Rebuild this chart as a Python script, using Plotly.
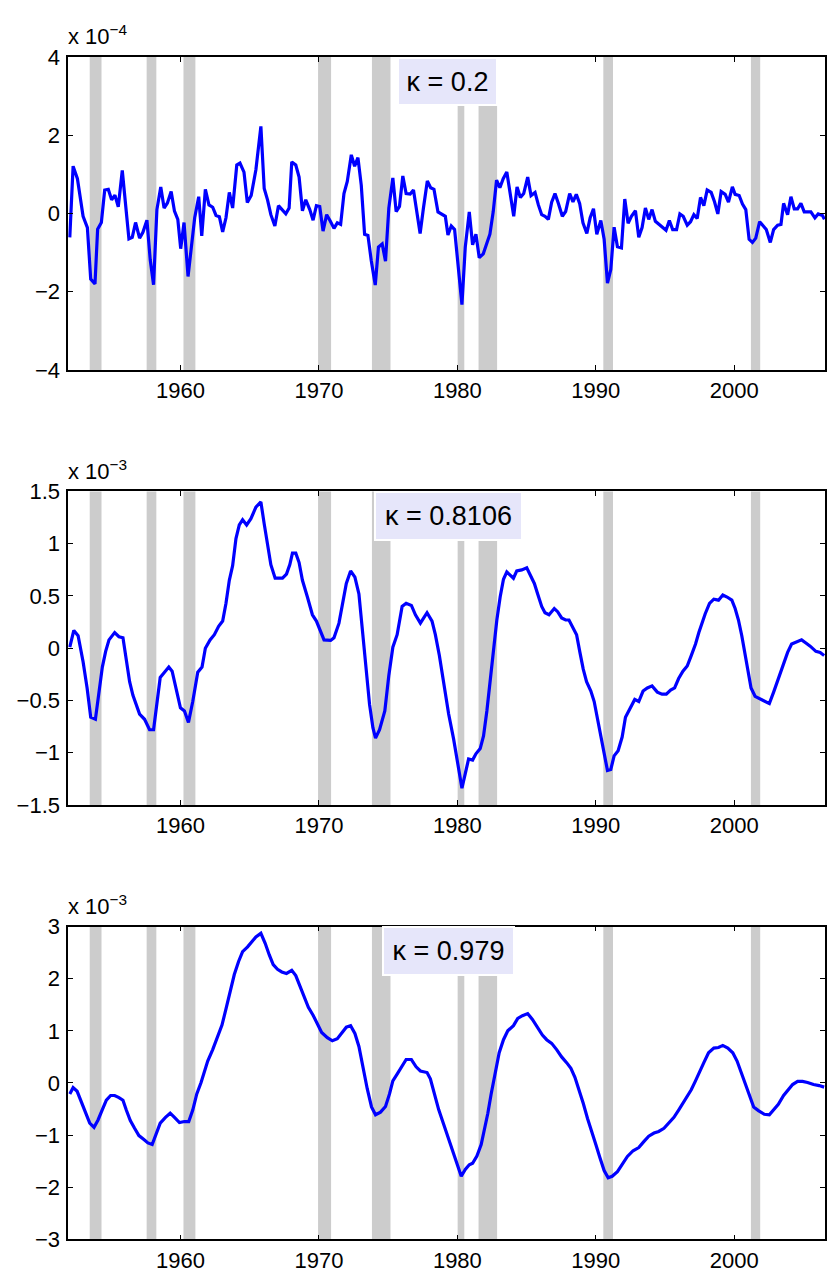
import plotly.graph_objects as go

W, H = 827, 1286

# ---------------- data ----------------
REC_START = [1953.45, 1957.56, 1960.22, 1969.94, 1973.83, 1980.02, 1981.53, 1990.54, 2001.20]
REC_END   = [1954.30, 1958.26, 1961.08, 1970.88, 1975.17, 1980.50, 1982.87, 1991.24, 2001.87]

X_TICKS = [1960, 1970, 1980, 1990, 2000]
X_TICK_LABELS = ["1960", "1970", "1980", "1990", "2000"]

# panel 1 (units of 1e-4), kappa = 0.2
P1_YEAR = [1952.01, 1952.25, 1952.56, 1952.97, 1953.28, 1953.52, 1953.83, 1954.02, 1954.29, 1954.53,
           1954.79, 1955.03, 1955.27, 1955.51, 1955.80, 1956.04, 1956.28, 1956.52, 1956.76, 1957.05,
           1957.29, 1957.58, 1957.82, 1958.06, 1958.30, 1958.58, 1958.82, 1959.06, 1959.33, 1959.57,
           1959.81, 1960.02, 1960.26, 1960.55, 1960.79, 1961.03, 1961.32, 1961.54, 1961.80, 1962.06,
           1962.33, 1962.57, 1962.81, 1963.05, 1963.29, 1963.53, 1963.77, 1964.07, 1964.30, 1964.59,
           1964.83, 1965.11, 1965.45, 1965.81, 1966.05, 1966.29, 1966.53, 1966.82, 1967.08, 1967.37,
           1967.61, 1967.85, 1968.04, 1968.33, 1968.57, 1968.81, 1969.05, 1969.34, 1969.58, 1969.82,
           1970.06, 1970.30, 1970.56, 1970.80, 1971.09, 1971.33, 1971.57, 1971.81, 1972.05, 1972.34,
           1972.58, 1972.82, 1973.06, 1973.30, 1973.54, 1973.78, 1974.07, 1974.30, 1974.57, 1974.81,
           1975.05, 1975.34, 1975.58, 1975.82, 1976.06, 1976.30, 1976.59, 1976.83, 1977.07, 1977.31,
           1977.55, 1977.83, 1978.07, 1978.31, 1978.60, 1978.89, 1979.13, 1979.32, 1979.56, 1979.80,
           1980.04, 1980.33, 1980.57, 1980.86, 1981.10, 1981.34, 1981.58, 1981.87, 1982.11, 1982.35,
           1982.59, 1982.83, 1983.07, 1983.31, 1983.57, 1983.83, 1984.07, 1984.31, 1984.55, 1984.79,
           1985.08, 1985.32, 1985.61, 1985.85, 1986.09, 1986.33, 1986.57, 1986.81, 1987.05, 1987.29,
           1987.58, 1987.82, 1988.11, 1988.35, 1988.59, 1988.83, 1989.07, 1989.35, 1989.59, 1989.83,
           1990.07, 1990.36, 1990.60, 1990.84, 1991.08, 1991.32, 1991.56, 1991.85, 1992.09, 1992.33,
           1992.57, 1992.86, 1993.10, 1993.34, 1993.58, 1993.82, 1994.06, 1994.30, 1994.59, 1994.83,
           1995.07, 1995.31, 1995.55, 1995.83, 1996.07, 1996.31, 1996.60, 1996.84, 1997.08, 1997.32,
           1997.56, 1997.80, 1998.04, 1998.33, 1998.57, 1998.81, 1999.05, 1999.34, 1999.58, 1999.86,
           2000.06, 2000.35, 2000.59, 2000.83, 2001.07, 2001.31, 2001.55, 2001.83, 2002.07, 2002.31,
           2002.60, 2002.84, 2003.13, 2003.37, 2003.56, 2003.85, 2004.09, 2004.33, 2004.57, 2004.81,
           2005.05, 2005.29, 2005.53, 2005.82, 2006.06, 2006.37, 2006.51]
P1_VAL = [-0.61, 1.21, 0.89, -0.07, -0.36, -1.68, -1.80, -0.40, -0.23, 0.60,
          0.62, 0.35, 0.47, 0.17, 1.10, 0.22, -0.65, -0.61, -0.23, -0.63,
          -0.48, -0.17, -1.19, -1.82, 0.10, 0.68, 0.14, 0.27, 0.56, 0.06,
          -0.15, -0.90, -0.23, -1.61, -0.78, -0.11, 0.43, -0.57, 0.62, 0.22,
          0.16, -0.05, -0.08, -0.47, -0.11, 0.54, 0.14, 1.24, 1.29, 1.06,
          0.28, 0.46, 1.12, 2.23, 0.64, 0.35, -0.03, -0.32, 0.20, 0.10,
          -0.01, 0.14, 1.32, 1.24, 0.93, 0.07, 0.35, 0.10, -0.17, 0.20,
          0.18, -0.45, -0.03, -0.18, -0.38, -0.24, -0.28, 0.51, 0.82, 1.50,
          1.21, 1.43, 0.72, -0.53, -0.56, -1.20, -1.83, -0.86, -0.78, -1.22,
          0.14, 0.91, 0.05, 0.18, 0.96, 0.51, 0.50, 0.60, -0.03, -0.51,
          0.14, 0.83, 0.66, 0.62, 0.04, -0.01, -0.07, -0.55, -0.32, -0.41,
          -1.37, -2.33, -0.86, 0.04, -0.80, -0.53, -1.13, -1.03, -0.78, -0.53,
          0.05, 0.85, 0.66, 0.89, 1.06, 0.46, -0.07, 0.68, 0.41, 0.51,
          0.93, 0.46, 0.54, 0.22, -0.03, -0.07, -0.15, 0.29, 0.51, 0.26,
          -0.07, 0.05, 0.51, 0.30, 0.49, 0.26, -0.24, -0.51, -0.11, 0.12,
          -0.53, -0.18, -0.66, -1.78, -1.43, -0.35, -0.85, -0.88, 0.37, -0.25,
          -0.07, 0.07, -0.61, -0.36, 0.14, -0.15, 0.10, -0.20, -0.28, -0.35,
          -0.43, -0.18, -0.41, -0.41, -0.01, -0.07, -0.30, -0.21, -0.03, -0.13,
          0.41, 0.20, 0.60, 0.54, 0.30, -0.01, 0.56, 0.49, 0.29, 0.68,
          0.49, 0.46, 0.24, 0.10, -0.66, -0.74, -0.63, -0.21, -0.30, -0.41,
          -0.74, -0.41, -0.30, -0.28, 0.26, -0.03, 0.43, 0.12, 0.12, 0.26,
          0.04, 0.04, 0.04, -0.11, -0.01, -0.05, -0.15]

# panel 2 (units of 1e-3), kappa = 0.8106
P2_YEAR = [1952.01, 1952.30, 1952.61, 1952.97, 1953.26, 1953.52, 1953.86, 1954.12, 1954.36, 1954.60,
           1954.84, 1955.25, 1955.56, 1955.85, 1956.09, 1956.33, 1956.57, 1956.81, 1957.05, 1957.41,
           1957.77, 1958.06, 1958.30, 1958.54, 1958.85, 1959.16, 1959.40, 1959.69, 1960.00, 1960.29,
           1960.58, 1960.89, 1961.25, 1961.56, 1961.80, 1962.14, 1962.45, 1962.76, 1963.05, 1963.29,
           1963.53, 1963.77, 1964.01, 1964.25, 1964.49, 1964.78, 1965.09, 1965.45, 1965.81, 1966.05,
           1966.29, 1966.53, 1966.84, 1967.37, 1967.66, 1967.90, 1968.09, 1968.33, 1968.57, 1968.81,
           1969.17, 1969.53, 1969.82, 1970.06, 1970.37, 1970.85, 1971.09, 1971.45, 1971.69, 1971.98,
           1972.29, 1972.60, 1972.89, 1973.13, 1973.37, 1973.66, 1973.90, 1974.09, 1974.38, 1974.76,
           1975.05, 1975.34, 1975.65, 1976.01, 1976.30, 1976.68, 1976.97, 1977.33, 1977.57, 1977.81,
           1978.17, 1978.41, 1978.70, 1979.01, 1979.37, 1979.73, 1980.04, 1980.33, 1980.57, 1980.81,
           1981.10, 1981.34, 1981.65, 1981.89, 1982.13, 1982.37, 1982.61, 1982.85, 1983.09, 1983.33,
           1983.57, 1984.05, 1984.29, 1984.65, 1985.01, 1985.25, 1985.56, 1985.80, 1986.09, 1986.33,
           1986.62, 1987.00, 1987.24, 1987.53, 1987.82, 1988.06, 1988.30, 1988.61, 1988.85, 1989.09,
           1989.33, 1989.64, 1989.88, 1990.12, 1990.36, 1990.60, 1990.84, 1991.08, 1991.32, 1991.61,
           1991.90, 1992.14, 1992.45, 1992.81, 1993.10, 1993.41, 1993.72, 1994.06, 1994.44, 1994.78,
           1995.09, 1995.40, 1995.69, 1995.98, 1996.29, 1996.60, 1996.89, 1997.20, 1997.44, 1997.66,
           1997.90, 1998.21, 1998.52, 1998.86, 1999.17, 1999.48, 1999.82, 2000.06, 2000.30, 2000.54,
           2000.78, 2000.97, 2001.21, 2001.50, 2001.81, 2002.17, 2002.53, 2002.84, 2003.13, 2003.37,
           2003.61, 2003.85, 2004.14, 2004.45, 2004.86, 2005.17, 2005.48, 2005.89, 2006.20, 2006.49]
P2_VAL = [0.01, 0.17, 0.12, -0.13, -0.38, -0.66, -0.68, -0.42, -0.18, -0.03,
          0.08, 0.15, 0.11, 0.10, -0.10, -0.32, -0.45, -0.53, -0.63, -0.68,
          -0.78, -0.78, -0.51, -0.28, -0.23, -0.18, -0.22, -0.38, -0.57, -0.60,
          -0.71, -0.51, -0.23, -0.18, 0.00, 0.08, 0.13, 0.21, 0.26, 0.43,
          0.65, 0.79, 1.05, 1.18, 1.23, 1.18, 1.24, 1.35, 1.40, 1.19,
          0.99, 0.80, 0.67, 0.67, 0.71, 0.80, 0.91, 0.91, 0.82, 0.65,
          0.49, 0.32, 0.26, 0.18, 0.08, 0.075, 0.10, 0.24, 0.40, 0.62,
          0.74, 0.68, 0.52, 0.19, -0.17, -0.54, -0.76, -0.86, -0.78, -0.60,
          -0.26, 0.01, 0.13, 0.40, 0.43, 0.41, 0.32, 0.24, 0.29, 0.34,
          0.26, 0.13, -0.07, -0.32, -0.63, -0.87, -1.13, -1.34, -1.20, -1.06,
          -1.07, -1.01, -0.96, -0.84, -0.60, -0.29, 0.02, 0.27, 0.49, 0.66,
          0.73, 0.67, 0.74, 0.75, 0.77, 0.71, 0.62, 0.52, 0.40, 0.34,
          0.32, 0.38, 0.35, 0.29, 0.27, 0.27, 0.21, 0.13, -0.04, -0.20,
          -0.32, -0.41, -0.51, -0.68, -0.82, -0.98, -1.17, -1.16, -1.03, -0.98,
          -0.85, -0.66, -0.58, -0.49, -0.51, -0.41, -0.38, -0.36, -0.42, -0.44,
          -0.44, -0.40, -0.38, -0.29, -0.22, -0.17, -0.07, 0.04, 0.15, 0.24,
          0.33, 0.43, 0.47, 0.46, 0.51, 0.49, 0.46, 0.38, 0.27, 0.12,
          -0.06, -0.23, -0.38, -0.46, -0.48, -0.51, -0.53, -0.42, -0.31, -0.21,
          -0.12, -0.04, 0.04, 0.06, 0.08, 0.05, 0.02, -0.03, -0.04, -0.07]

# panel 3 (units of 1e-3), kappa = 0.979
P3_YEAR = [1952.01, 1952.25, 1952.54, 1952.85, 1953.16, 1953.45, 1953.76, 1954.05, 1954.36, 1954.65,
           1954.96, 1955.25, 1955.56, 1955.85, 1956.09, 1956.38, 1956.69, 1957.00, 1957.34, 1957.65,
           1957.96, 1958.25, 1958.54, 1958.92, 1959.26, 1959.57, 1959.93, 1960.29, 1960.60, 1960.89,
           1961.18, 1961.49, 1961.73, 1961.97, 1962.33, 1962.69, 1963.00, 1963.29, 1963.58, 1963.89,
           1964.20, 1964.49, 1964.85, 1965.16, 1965.45, 1965.81, 1966.12, 1966.41, 1966.70, 1967.01,
           1967.32, 1967.66, 1968.04, 1968.33, 1968.62, 1968.93, 1969.24, 1969.58, 1969.89, 1970.20,
           1970.61, 1970.97, 1971.33, 1971.64, 1971.98, 1972.29, 1972.60, 1972.89, 1973.18, 1973.49,
           1973.80, 1974.09, 1974.45, 1974.81, 1975.10, 1975.34, 1975.65, 1976.01, 1976.30, 1976.68,
           1977.02, 1977.33, 1977.81, 1978.05, 1978.36, 1978.65, 1979.01, 1979.37, 1979.85, 1980.28,
           1980.57, 1980.86, 1981.10, 1981.41, 1981.72, 1981.96, 1982.20, 1982.44, 1982.73, 1983.02,
           1983.33, 1983.64, 1984.05, 1984.36, 1984.70, 1985.08, 1985.42, 1985.80, 1986.14, 1986.45,
           1986.81, 1987.17, 1987.53, 1987.89, 1988.20, 1988.49, 1988.78, 1989.09, 1989.40, 1989.69,
           1990.00, 1990.29, 1990.60, 1990.89, 1991.18, 1991.56, 1991.90, 1992.28, 1992.69, 1993.10,
           1993.48, 1993.82, 1994.20, 1994.54, 1994.92, 1995.26, 1995.64, 1995.98, 1996.29, 1996.60,
           1996.89, 1997.18, 1997.49, 1997.80, 1998.14, 1998.52, 1998.86, 1999.17, 1999.53, 1999.89,
           2000.20, 2000.49, 2000.78, 2001.09, 2001.40, 2001.74, 2002.17, 2002.53, 2002.84, 2003.18,
           2003.56, 2003.90, 2004.21, 2004.57, 2004.93, 2005.29, 2005.72, 2006.13, 2006.49]
P3_VAL = [-0.21, -0.09, -0.16, -0.36, -0.58, -0.77, -0.85, -0.71, -0.51, -0.33,
          -0.24, -0.24, -0.28, -0.33, -0.52, -0.72, -0.87, -1.01, -1.08, -1.15,
          -1.18, -0.99, -0.77, -0.66, -0.58, -0.66, -0.76, -0.74, -0.74, -0.52,
          -0.21, 0.01, 0.23, 0.42, 0.64, 0.89, 1.11, 1.42, 1.77, 2.08,
          2.33, 2.52, 2.61, 2.71, 2.80, 2.87, 2.68, 2.46, 2.27, 2.18,
          2.13, 2.10, 2.16, 2.06, 1.86, 1.64, 1.45, 1.30, 1.14, 0.97,
          0.87, 0.81, 0.85, 0.95, 1.07, 1.10, 0.95, 0.70, 0.29, -0.11,
          -0.46, -0.61, -0.56, -0.45, -0.21, 0.04, 0.17, 0.34, 0.45, 0.45,
          0.31, 0.23, 0.20, 0.08, -0.21, -0.51, -0.79, -1.07, -1.45, -1.79,
          -1.66, -1.57, -1.54, -1.40, -1.18, -0.90, -0.58, -0.21, 0.20, 0.58,
          0.83, 1.00, 1.10, 1.24, 1.29, 1.33, 1.22, 1.06, 0.92, 0.83,
          0.76, 0.64, 0.50, 0.39, 0.28, 0.11, -0.11, -0.39, -0.68, -0.90,
          -1.18, -1.43, -1.68, -1.82, -1.79, -1.70, -1.55, -1.41, -1.30, -1.24,
          -1.12, -1.02, -0.96, -0.93, -0.87, -0.77, -0.66, -0.52, -0.38, -0.27,
          -0.13, 0.03, 0.22, 0.39, 0.58, 0.67, 0.68, 0.72, 0.67, 0.58,
          0.42, 0.20, -0.02, -0.27, -0.46, -0.53, -0.60, -0.61, -0.52, -0.41,
          -0.24, -0.13, -0.03, 0.03, 0.03, 0.01, -0.03, -0.05, -0.08]

PANELS = [
    dict(year=P1_YEAR, val=P1_VAL, exp="x 10<sup>\u22124</sup>", kappa="\u03ba = 0.2",
         yticks=[-4, -2, 0, 2, 4], ylabels=["\u22124", "\u22122", "0", "2", "4"], yrange=[-4, 4]),
    dict(year=P2_YEAR, val=P2_VAL, exp="x 10<sup>\u22123</sup>", kappa="\u03ba = 0.8106",
         yticks=[-1.5, -1, -0.5, 0, 0.5, 1, 1.5],
         ylabels=["\u22121.5", "\u22121", "\u22120.5", "0", "0.5", "1", "1.5"], yrange=[-1.5, 1.5]),
    dict(year=P3_YEAR, val=P3_VAL, exp="x 10<sup>\u22123</sup>", kappa="\u03ba = 0.979",
         yticks=[-3, -2, -1, 0, 1, 2, 3],
         ylabels=["\u22123", "\u22122", "\u22121", "0", "1", "2", "3"], yrange=[-3, 3]),
]

# ---------------- layout geometry (pixels) ----------------
PLOT_LEFT, PLOT_RIGHT = 68.3, 827
PANEL_TB = [(46, 365), (489, 808.7), (932.7, 1251.7)]
KBOX = [(400, 497, 48, 93), (377, 522, 491, 537), (385, 514, 935, 981)]
X_RANGE = [1951.89, 2006.55]

FONT = "Liberation Sans, Arial, sans-serif"

fig = go.Figure()
layout = dict(
    width=W, height=H, margin=dict(l=0, r=0, t=0, b=0),
    paper_bgcolor="white", plot_bgcolor="white", showlegend=False,
    shapes=[], annotations=[],
)

for i, p in enumerate(PANELS):
    n = "" if i == 0 else str(i + 1)
    xa, ya = "x" + n, "y" + n
    top, bot = PANEL_TB[i]
    fig.add_trace(go.Scatter(x=p["year"], y=p["val"], mode="lines",
                             line=dict(color="#0000FF", width=3.2),
                             xaxis=xa, yaxis=ya, hoverinfo="skip"))
    common = dict(showline=True, linecolor="black", linewidth=1.5, mirror="ticks",
                  ticks="inside", ticklen=5, tickcolor="black", tickwidth=1,
                  showgrid=False, zeroline=False,
                  tickfont=dict(family=FONT, size=22, color="black"))
    layout["xaxis" + n] = dict(common, domain=[PLOT_LEFT / W, PLOT_RIGHT / W],
                               range=X_RANGE, tickvals=X_TICKS, ticktext=X_TICK_LABELS,
                               anchor=ya, ticklabelstandoff=0)
    layout["yaxis" + n] = dict(common, domain=[1 - bot / H, 1 - top / H],
                               range=p["yrange"], tickvals=p["yticks"], ticktext=p["ylabels"],
                               anchor=xa, ticklabelstandoff=2)
    for s, e in zip(REC_START, REC_END):
        layout["shapes"].append(dict(type="rect", xref=xa, yref=ya + " domain",
                                     x0=s, x1=e, y0=0, y1=1, fillcolor="#CCCCCC",
                                     line=dict(width=0), layer="below"))
    # exponent label
    layout["annotations"].append(dict(text=p["exp"], xref="paper", yref="paper",
                                      x=66 / W, y=1 - (top - 6) / H, xanchor="left",
                                      yanchor="bottom", showarrow=False,
                                      font=dict(family=FONT, size=22, color="black")))
    # kappa box
    l, r, t, b = KBOX[i]
    layout["annotations"].append(dict(text=p["kappa"], xref="paper", yref="paper",
                                      x=(l + r) / 2 / W, y=1 - (t + b) / 2 / H,
                                      xanchor="center", yanchor="middle", showarrow=False,
                                      width=r - l, height=b - t, bgcolor="#E6E6FA",
                                      bordercolor="white", borderwidth=2, borderpad=0,
                                      font=dict(family=FONT, size=27, color="black")))

fig.update_layout(**layout)
fig.write_html("out.html")
